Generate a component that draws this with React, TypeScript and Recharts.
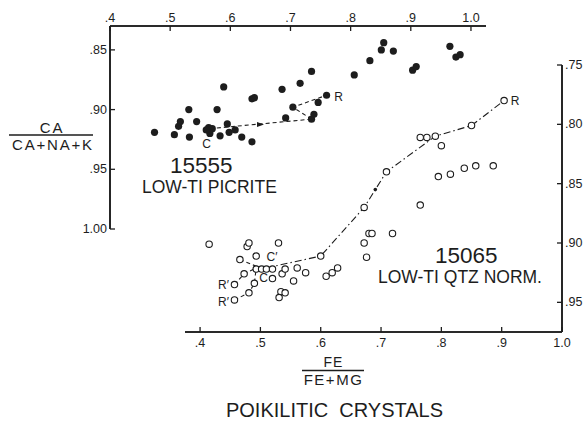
import React from 'react';
import { ScatterChart, Scatter, XAxis, YAxis } from 'recharts';

const INK = '#1d1d1d';
const FONT = '"Liberation Sans", Arial, sans-serif';

// 15555 low-Ti picrite: [Fe/(Fe+Mg), Ca/(Ca+Na+K)]
const picritePoints: [number, number][] = [
    [0.474, 0.919], [0.507, 0.921], [0.532, 0.923], [0.514, 0.914], [0.517, 0.910],
    [0.531, 0.900], [0.544, 0.910], [0.564, 0.915], [0.570, 0.916], [0.566, 0.920],
    [0.560, 0.917], [0.578, 0.900], [0.583, 0.922], [0.589, 0.881], [0.595, 0.912],
    [0.598, 0.919], [0.608, 0.917], [0.619, 0.923], [0.636, 0.927], [0.636, 0.891],
    [0.640, 0.890], [0.686, 0.883], [0.692, 0.907], [0.704, 0.898], [0.716, 0.878],
    [0.735, 0.868], [0.735, 0.908], [0.739, 0.904], [0.746, 0.894], [0.760, 0.888],
    [0.806, 0.871], [0.832, 0.859], [0.851, 0.850], [0.855, 0.844], [0.871, 0.851],
    [0.903, 0.867], [0.909, 0.864], [0.965, 0.847], [0.975, 0.856], [0.982, 0.854],
];
const picriteTrendA: [number, number][] = [[0.566, 0.916], [0.735, 0.908]];
const picriteTrendB: [number, number][] = [[0.735, 0.908], [0.704, 0.898], [0.760, 0.888]];
const picriteArrow: [number, number][] = [[0.651, 0.9125]];

// 15065 low-Ti quartz normative
const qtzPoints: [number, number][] = [
    [0.904, 0.780], [0.850, 0.801], [0.765, 0.811], [0.776, 0.811], [0.790, 0.810],
    [0.800, 0.818], [0.709, 0.840], [0.795, 0.844], [0.815, 0.842], [0.838, 0.837],
    [0.857, 0.835], [0.886, 0.835], [0.765, 0.868], [0.719, 0.892], [0.672, 0.870],
    [0.415, 0.901], [0.478, 0.903], [0.481, 0.900], [0.530, 0.900], [0.680, 0.892],
    [0.685, 0.892], [0.672, 0.900], [0.676, 0.912], [0.466, 0.914], [0.493, 0.911],
    [0.600, 0.911], [0.493, 0.922], [0.502, 0.922], [0.510, 0.922], [0.520, 0.922],
    [0.473, 0.926], [0.457, 0.935], [0.490, 0.934], [0.481, 0.942], [0.457, 0.948],
    [0.520, 0.930], [0.536, 0.926], [0.541, 0.922], [0.561, 0.921], [0.575, 0.925],
    [0.555, 0.932], [0.534, 0.941], [0.541, 0.942], [0.531, 0.946], [0.609, 0.928],
    [0.619, 0.925], [0.628, 0.921],
];
const qtzMainTrend: [number, number][] = [
    [0.510, 0.921], [0.600, 0.911], [0.672, 0.870], [0.709, 0.840],
    [0.790, 0.810], [0.850, 0.801], [0.904, 0.780],
];
const qtzTrend1: [number, number][] = [[0.466, 0.914], [0.500, 0.921]];
const qtzTrend2: [number, number][] = [[0.457, 0.935], [0.473, 0.926], [0.493, 0.921]];
const qtzTrend3: [number, number][] = [[0.457, 0.948], [0.481, 0.942], [0.490, 0.934], [0.493, 0.921]];
const qtzArrow: [number, number][] = [[0.6905, 0.855]];

// axis ranges and ticks
const topXDomain: [number, number] = [0.4, 1.025];
const leftYDomain: [number, number] = [0.83, 1.0];
const bottomXDomain: [number, number] = [0.375, 1.0];
const rightYDomain: [number, number] = [0.75, 0.975];
const topXTicks = [0.4, 0.5, 0.6, 0.7, 0.8, 0.9, 1.0];
const leftYTicks = [0.85, 0.9, 0.95, 1.0];
const bottomXTicks = [0.4, 0.5, 0.6, 0.7, 0.8, 0.9, 1.0];
const rightYTicks = [0.75, 0.8, 0.85, 0.9, 0.95];

// plot boxes of the two panels (page pixels)
const UPPER = { left: 110, top: 26, right: 486, bottom: 229 };
const LOWER = { left: 185, top: 65, right: 562, bottom: 332 };
const TOP_AXIS_H = 26;
const LEFT_AXIS_W = 40;
const BOTTOM_AXIS_H = 30;
const RIGHT_AXIS_W = 20;

const toXY = (pts: [number, number][]) => pts.map(([x, y]) => ({ x, y }));

const fmt = (v: number, digits: number) => {
    const s = v.toFixed(digits);
    return s.startsWith('0') ? s.slice(1) : s;
};

// same linear mapping the charts use, for the inward tick marks
const sx = (box: typeof UPPER, dom: [number, number], v: number) =>
    box.left + ((v - dom[0]) / (dom[1] - dom[0])) * (box.right - box.left);
const sy = (box: typeof UPPER, dom: [number, number], v: number) =>
    box.top + ((v - dom[0]) / (dom[1] - dom[0])) * (box.bottom - box.top);

const TopLabel = (p: any) => (
    <text x={p.x} y={p.y - 4} textAnchor="middle" fontSize={12.5} fill={INK} fontFamily={FONT}>
        {fmt(p.payload.value, 1)}
    </text>
);
const LeftLabel = (p: any) => (
    <text x={p.x - 3} y={p.y + 4} textAnchor="end" fontSize={12.5} fill={INK} fontFamily={FONT}>
        {fmt(p.payload.value, 2)}
    </text>
);
const RightLabel = (p: any) => (
    <text x={p.x + 3} y={p.y + 4} textAnchor="start" fontSize={12.5} fill={INK} fontFamily={FONT}>
        {fmt(p.payload.value, 2)}
    </text>
);
const BottomLabel = (p: any) => (
    <text x={p.x} y={p.y + 15} textAnchor="middle" fontSize={12.5} fill={INK} fontFamily={FONT}>
        {fmt(p.payload.value, 1)}
    </text>
);

const FilledDot = (p: any) => <circle cx={p.cx} cy={p.cy} r={3.6} fill={INK} />;
const OpenDot = (p: any) => <circle cx={p.cx} cy={p.cy} r={3.2} fill="#fff" stroke={INK} strokeWidth={1.1} />;
const NoDot = () => <g />;
const RightArrow = (p: any) => (
    <path d={`M${p.cx - 4},${p.cy - 2.5} L${p.cx + 3},${p.cy} L${p.cx - 4},${p.cy + 2.5} Z`} fill={INK} />
);
const SmallDot = (p: any) => <circle cx={p.cx} cy={p.cy} r={1.8} fill={INK} />;

const axisStroke = { stroke: INK, strokeWidth: 1.6 };
const dashed = { stroke: INK, strokeWidth: 1.1, strokeDasharray: '4 3' };
const dashDot = { stroke: INK, strokeWidth: 1.1, strokeDasharray: '7 3 1.5 3' };

const Label = ({ x, y, children, size = 12, anchor = 'middle', ls = 0 }: any) => (
    <text x={x} y={y} fontSize={size} textAnchor={anchor} fill={INK} fontFamily={FONT} letterSpacing={ls}>
        {children}
    </text>
);

const App: React.FC = () => {
    return (
        <div style={{ position: 'absolute', left: 0, top: 0, width: 586, height: 422, background: '#fff' }}>
            {/* 15555 panel: top axis + left axis */}
            <div style={{ position: 'absolute', left: 0, top: 0 }}>
                <ScatterChart
                    width={586}
                    height={422}
                    margin={{
                        top: UPPER.top - TOP_AXIS_H,
                        right: 586 - UPPER.right,
                        bottom: 422 - UPPER.bottom,
                        left: UPPER.left - LEFT_AXIS_W,
                    }}
                >
                    <XAxis
                        type="number"
                        dataKey="x"
                        orientation="top"
                        domain={topXDomain}
                        ticks={topXTicks}
                        interval={0}
                        height={TOP_AXIS_H}
                        tickSize={0}
                        tickMargin={0}
                        tickLine={false}
                        axisLine={axisStroke}
                        tick={TopLabel}
                    />
                    <YAxis
                        type="number"
                        dataKey="y"
                        reversed
                        domain={leftYDomain}
                        ticks={leftYTicks}
                        interval={0}
                        width={LEFT_AXIS_W}
                        tickSize={0}
                        tickMargin={0}
                        tickLine={false}
                        axisLine={axisStroke}
                        tick={LeftLabel}
                    />
                    <Scatter data={toXY(picriteTrendA)} line={dashed} shape={NoDot} isAnimationActive={false} />
                    <Scatter data={toXY(picriteTrendB)} line={dashed} shape={NoDot} isAnimationActive={false} />
                    <Scatter data={toXY(picriteArrow)} shape={RightArrow} isAnimationActive={false} />
                    <Scatter data={toXY(picritePoints)} shape={FilledDot} isAnimationActive={false} />
                </ScatterChart>
            </div>

            {/* 15065 panel: bottom axis + right axis */}
            <div style={{ position: 'absolute', left: 0, top: 0 }}>
                <ScatterChart
                    width={586}
                    height={422}
                    margin={{
                        top: LOWER.top,
                        right: 586 - LOWER.right - RIGHT_AXIS_W,
                        bottom: 422 - LOWER.bottom - BOTTOM_AXIS_H,
                        left: LOWER.left,
                    }}
                >
                    <XAxis
                        type="number"
                        dataKey="x"
                        orientation="bottom"
                        domain={bottomXDomain}
                        ticks={bottomXTicks}
                        interval={0}
                        height={BOTTOM_AXIS_H}
                        tickSize={0}
                        tickMargin={0}
                        tickLine={false}
                        axisLine={axisStroke}
                        tick={BottomLabel}
                    />
                    <YAxis
                        type="number"
                        dataKey="y"
                        orientation="right"
                        reversed
                        domain={rightYDomain}
                        ticks={rightYTicks}
                        interval={0}
                        width={RIGHT_AXIS_W}
                        tickSize={0}
                        tickMargin={0}
                        tickLine={false}
                        axisLine={axisStroke}
                        tick={RightLabel}
                    />
                    <Scatter data={toXY(qtzMainTrend)} line={dashDot} shape={NoDot} isAnimationActive={false} />
                    <Scatter data={toXY(qtzTrend1)} line={dashed} shape={NoDot} isAnimationActive={false} />
                    <Scatter data={toXY(qtzTrend2)} line={dashed} shape={NoDot} isAnimationActive={false} />
                    <Scatter data={toXY(qtzTrend3)} line={dashed} shape={NoDot} isAnimationActive={false} />
                    <Scatter data={toXY(qtzArrow)} shape={SmallDot} isAnimationActive={false} />
                    <Scatter data={toXY(qtzPoints)} shape={OpenDot} isAnimationActive={false} />
                </ScatterChart>
            </div>

            {/* frames, titles and annotations */}
            <svg width={586} height={422} style={{ position: 'absolute', left: 0, top: 0, pointerEvents: 'none' }}>
                <line x1={UPPER.left} x2={UPPER.right} y1={UPPER.top} y2={UPPER.top} stroke={INK} strokeWidth={1.6} />
                <line x1={UPPER.left} x2={UPPER.left} y1={UPPER.top} y2={UPPER.bottom} stroke={INK} strokeWidth={1.6} />
                <line x1={LOWER.left} x2={LOWER.right} y1={LOWER.bottom} y2={LOWER.bottom} stroke={INK} strokeWidth={1.6} />
                <line x1={LOWER.right} x2={LOWER.right} y1={LOWER.top} y2={LOWER.bottom} stroke={INK} strokeWidth={1.6} />
                {topXTicks.map(t => (
                    <line key={`tx${t}`} x1={sx(UPPER, topXDomain, t)} x2={sx(UPPER, topXDomain, t)}
                        y1={UPPER.top} y2={UPPER.top + 5} stroke={INK} strokeWidth={1.3} />
                ))}
                {leftYTicks.map(t => (
                    <line key={`ly${t}`} x1={UPPER.left} x2={UPPER.left + 5}
                        y1={sy(UPPER, leftYDomain, t)} y2={sy(UPPER, leftYDomain, t)} stroke={INK} strokeWidth={1.3} />
                ))}
                {bottomXTicks.map(t => (
                    <line key={`bx${t}`} x1={sx(LOWER, bottomXDomain, t)} x2={sx(LOWER, bottomXDomain, t)}
                        y1={LOWER.bottom - 5} y2={LOWER.bottom} stroke={INK} strokeWidth={1.3} />
                ))}
                {rightYTicks.map(t => (
                    <line key={`ry${t}`} x1={LOWER.right - 5} x2={LOWER.right}
                        y1={sy(LOWER, rightYDomain, t)} y2={sy(LOWER, rightYDomain, t)} stroke={INK} strokeWidth={1.3} />
                ))}

                <Label x={52} y={132.5} size={15} ls={1.8}>CA</Label>
                <line x1={9} x2={93} y1={135} y2={135} stroke={INK} strokeWidth={1.3} />
                <Label x={53} y={149.5} size={15} ls={1.8}>CA+NA+K</Label>

                <Label x={170} y={173} size={22.5} anchor="start">15555</Label>
                <Label x={142} y={193} size={17.5} anchor="start">LOW-TI PICRITE</Label>
                <Label x={206.5} y={147.5}>C</Label>
                <Label x={338.5} y={100.5}>R</Label>

                <Label x={435} y={263} size={22.5} anchor="start">15065</Label>
                <Label x={378} y={283} size={17.5} anchor="start">LOW-TI QTZ NORM.</Label>
                <Label x={515} y={104.5}>R</Label>
                <Label x={272} y={261}>C′</Label>
                <Label x={263.5} y={281.5}>C</Label>
                <Label x={223.5} y={288.5}>R′</Label>
                <Label x={223.5} y={306}>R′</Label>

                <Label x={333.5} y={367} size={14} ls={1}>FE</Label>
                <line x1={302} x2={364} y1={370.5} y2={370.5} stroke={INK} strokeWidth={1.3} />
                <Label x={333.5} y={385} size={15} ls={1.5}>FE+MG</Label>

                <Label x={334.5} y={416.5} size={20}>POIKILITIC&#160; CRYSTALS</Label>
            </svg>
        </div>
    );
};

export default App;
